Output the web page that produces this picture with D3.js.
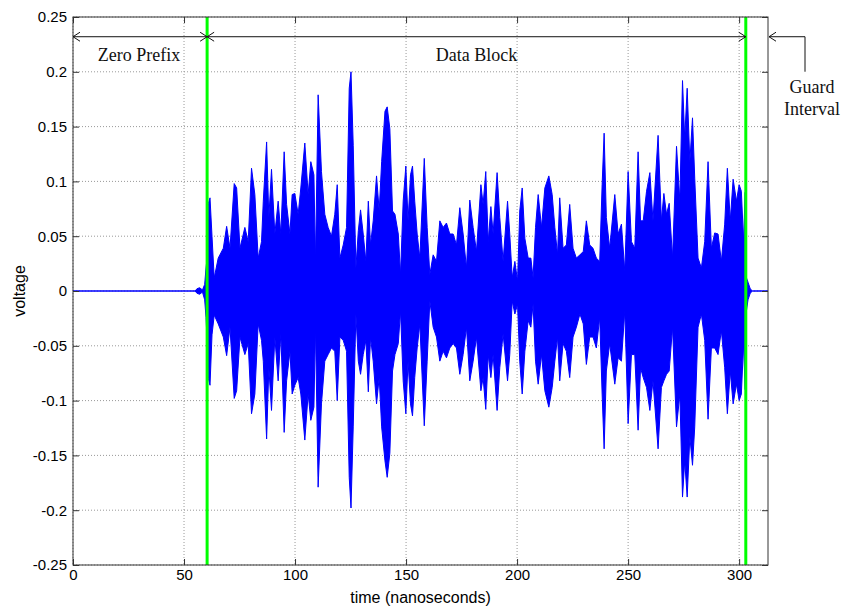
<!DOCTYPE html>
<html>
<head>
<meta charset="utf-8">
<script src="https://cdn.jsdelivr.net/npm/d3@7"></script>
<style>
  body { margin: 0; background: #fff; }
  text { font-family: "Liberation Sans", Arial, sans-serif; }
  .note { font-family: "Liberation Serif", "Times New Roman", serif; font-size: 18px; fill: #111; }
</style>
</head>
<body>
<div id="chart"></div>
<script>
// received signal envelope (upper / lower peaks per time point)

var timeNs = [0, 55, 55.8, 57, 58.3, 59.3, 59.9, 60.4, 61.0, 61.7, 62.6, 63.6, 65.4, 67.7, 69.2, 70.7, 72.6, 73.7, 75.2, 77.4,
  78.9, 80.4, 81.9, 83.4, 84.9, 85.7, 87.2, 88.2, 89.4, 90.9, 92.4, 93.6, 95.1, 96.2, 97.7, 98.7, 99.9, 101.4, 102.6, 104.4,
  105.9, 107.1, 108.5, 109.2, 110.4, 111.9, 113.4, 114.9, 116.4, 117.9, 119.0, 120.2, 121.7, 123.2, 124.4, 125.2, 126.2, 127.4, 128.5, 129.5,
  130.7, 131.9, 133.0, 134.0, 135.2, 136.7, 137.9, 139.0, 140.5, 141.5, 142.7, 143.9, 145.0, 146.5, 147.5, 148.7, 149.9, 150.9, 152.0, 152.9,
  153.9, 155.0, 156.2, 158.2, 159.5, 160.7, 162.2, 163.7, 165.2, 166.7, 168.2, 169.7, 171.2, 172.7, 174.2, 175.7, 177.2, 178.7, 180.2, 181.7,
  183.7, 184.7, 185.9, 187.0, 188.2, 189.2, 191.0, 192.2, 193.7, 195.7, 196.7, 197.8, 199.0, 200.2, 201.2, 202.3, 203.5, 205.0, 206.2, 207.2,
  208.3, 209.5, 211.0, 212.5, 214.3, 215.8, 217.0, 218.2, 219.2, 220.7, 222.2, 223.7, 225.2, 226.7, 228.3, 229.8, 231.2, 232.7, 234.2, 235.7,
  237.2, 238.3, 239.2, 240.2, 241.7, 244.0, 245.5, 247.0, 248.5, 250.0, 251.5, 253.0, 254.5, 255.6, 256.8, 258.3, 259.8, 261.2, 263.5, 265.0,
  266.1, 267.3, 268.5, 270.0, 271.8, 273.3, 274.5, 275.5, 276.6, 277.8, 279.0, 280.0, 281.5, 283.0, 284.5, 286.0, 287.5, 289.0, 290.5, 292.0,
  293.5, 294.7, 296.0, 297.3, 298.8, 300.0, 301.0, 302.0, 302.7, 303.3, 304.0, 305.0, 306.0, 313];

var upperV = [0, 0, 0.002, 0.003, 0.001, 0.006, 0.021, 0.03, 0.08, 0.085, 0.05, 0.012, 0.030, 0.039, 0.059, 0.039, 0.098, 0.094, 0.039, 0.058,
  0.045, 0.112, 0.088, 0.030, 0.045, 0.082, 0.136, 0.067, 0.111, 0.052, 0.082, 0.052, 0.127, 0.079, 0.052, 0.088, 0.089, 0.070, 0.094, 0.135,
  0.088, 0.118, 0.106, 0.027, 0.179, 0.109, 0.070, 0.058, 0.050, 0.070, 0.097, 0.030, 0.042, 0.058, 0.185, 0.200, 0.133, 0.021, 0.055, 0.074,
  0.052, 0.027, 0.082, 0.042, 0.064, 0.105, 0.073, 0.118, 0.164, 0.168, 0.148, 0.073, 0.070, 0.052, 0.015, 0.082, 0.114, 0.064, 0.106, 0.114,
  0.082, 0.052, 0.030, 0.121, 0.058, 0.015, 0.033, 0.027, 0.064, 0.058, 0.062, 0.052, 0.052, 0.042, 0.076, 0.052, 0.021, 0.083, 0.058, 0.036,
  0.097, 0.079, 0.109, 0.045, 0.077, 0.052, 0.108, 0.067, 0.027, 0.082, 0.052, 0.012, 0.027, 0.009, 0.073, 0.094, 0.048, 0.030, 0.030, 0.012,
  0.058, 0.088, 0.058, 0.094, 0.105, 0.088, 0.058, 0.033, 0.085, 0.039, 0.042, 0.079, 0.039, 0.030, 0.033, 0.036, 0.064, 0.042, 0.039, 0.030,
  0.027, 0.097, 0.144, 0.067, 0.039, 0.088, 0.052, 0.061, 0.018, 0.109, 0.045, 0.039, 0.127, 0.064, 0.064, 0.091, 0.108, 0.064, 0.142, 0.064,
  0.089, 0.070, 0.080, 0.030, 0.132, 0.082, 0.192, 0.139, 0.185, 0.118, 0.158, 0.103, 0.030, 0.021, 0.045, 0.118, 0.039, 0.053, 0.052, 0.027,
  0.061, 0.112, 0.064, 0.102, 0.082, 0.097, 0.091, 0.045, 0.09, 0.012, 0.008, 0.002, 0, 0];

var lowerV = [0, 0, -0.002, -0.003, -0.001, -0.008, -0.024, -0.045, -0.08, -0.086, -0.04, -0.022, -0.030, -0.042, -0.059, -0.033, -0.098, -0.091, -0.042, -0.058,
  -0.048, -0.112, -0.094, -0.030, -0.045, -0.064, -0.135, -0.070, -0.109, -0.042, -0.082, -0.039, -0.129, -0.082, -0.055, -0.094, -0.086, -0.079, -0.094, -0.136,
  -0.094, -0.118, -0.106, -0.033, -0.179, -0.103, -0.064, -0.058, -0.052, -0.055, -0.100, -0.042, -0.045, -0.055, -0.170, -0.198, -0.124, -0.021, -0.064, -0.076,
  -0.058, -0.045, -0.092, -0.042, -0.064, -0.103, -0.079, -0.124, -0.155, -0.170, -0.148, -0.073, -0.058, -0.048, -0.018, -0.082, -0.112, -0.064, -0.103, -0.114,
  -0.079, -0.052, -0.030, -0.123, -0.064, -0.009, -0.033, -0.042, -0.064, -0.055, -0.061, -0.052, -0.048, -0.052, -0.076, -0.058, -0.033, -0.082, -0.064, -0.042,
  -0.091, -0.079, -0.108, -0.058, -0.079, -0.058, -0.109, -0.070, -0.039, -0.082, -0.058, -0.009, -0.021, -0.012, -0.064, -0.094, -0.055, -0.027, -0.033, -0.012,
  -0.064, -0.085, -0.058, -0.091, -0.106, -0.088, -0.064, -0.042, -0.082, -0.048, -0.055, -0.079, -0.042, -0.033, -0.021, -0.030, -0.067, -0.042, -0.042, -0.052,
  -0.024, -0.094, -0.144, -0.073, -0.048, -0.085, -0.061, -0.064, -0.018, -0.121, -0.058, -0.058, -0.127, -0.070, -0.079, -0.088, -0.109, -0.082, -0.144, -0.088,
  -0.082, -0.076, -0.073, -0.033, -0.124, -0.094, -0.188, -0.155, -0.188, -0.133, -0.159, -0.124, -0.033, -0.021, -0.045, -0.117, -0.052, -0.052, -0.058, -0.036,
  -0.070, -0.112, -0.073, -0.103, -0.085, -0.100, -0.094, -0.048, -0.09, -0.018, -0.008, -0.002, 0, 0];

var xTicks = [0, 50, 100, 150, 200, 250, 300];
var yTicks = [-0.25, -0.2, -0.15, -0.1, -0.05, 0, 0.05, 0.1, 0.15, 0.2, 0.25];
var boundaries = [60.4, 303];   // green markers: end of zero prefix, end of data block
var xMax = 313;

var w = 843, h = 608;
var margin = {top: 17, right: 75, bottom: 43, left: 73};
var iw = w - margin.left - margin.right,
    ih = h - margin.top - margin.bottom;

var svg = d3.select("#chart").append("svg")
    .attr("width", w)
    .attr("height", h);

var g = svg.append("g")
    .attr("transform", "translate(" + margin.left + "," + margin.top + ")");

var x = d3.scaleLinear().domain([0, xMax]).range([0, iw]);
var y = d3.scaleLinear().domain([-0.25, 0.25]).range([ih, 0]);

var fmt = function(d) { return d === 0 ? "0" : String(+d.toFixed(2)); };

// dotted grid
g.selectAll(".gx").data(xTicks).enter().append("line")
    .attr("x1", d => x(d)).attr("x2", d => x(d))
    .attr("y1", 0).attr("y2", ih)
    .attr("stroke", "#999").attr("stroke-width", 1)
    .attr("stroke-dasharray", "1,2");
g.selectAll(".gy").data(yTicks).enter().append("line")
    .attr("x1", 0).attr("x2", iw)
    .attr("y1", d => y(d)).attr("y2", d => y(d))
    .attr("stroke", "#999").attr("stroke-width", 1)
    .attr("stroke-dasharray", "1,2");

// signal
var pts = timeNs.map(function(t, i) { return {t: t, hi: upperV[i], lo: lowerV[i]}; });

var area = d3.area()
    .x(d => x(d.t))
    .y0(d => y(d.lo))
    .y1(d => y(d.hi));

g.append("path")
    .datum(pts)
    .attr("d", area)
    .attr("fill", "#0000ff")
    .attr("stroke", "#0000ff")
    .attr("stroke-width", 1)
    .attr("stroke-linejoin", "miter");

// boundary markers
g.selectAll(".bnd").data(boundaries).enter().append("line")
    .attr("x1", d => x(d)).attr("x2", d => x(d))
    .attr("y1", 0).attr("y2", ih)
    .attr("stroke", "#00ff00").attr("stroke-width", 3);

// axes, MATLAB style inward ticks
function styleAxis(sel) {
  sel.select(".domain").remove();
  sel.selectAll(".tick line").attr("stroke", "#333");
  sel.selectAll("text").attr("font-size", "15px").attr("fill", "#000");
}

g.append("g").attr("transform", "translate(0," + ih + ")")
    .call(d3.axisBottom(x).tickValues(xTicks).tickFormat(fmt).tickSize(-6).tickPadding(4))
    .call(styleAxis);
g.append("g")
    .call(d3.axisTop(x).tickValues(xTicks).tickFormat("").tickSize(-6))
    .call(styleAxis);
g.append("g")
    .call(d3.axisLeft(y).tickValues(yTicks).tickFormat(fmt).tickSize(-6).tickPadding(6))
    .call(styleAxis);
g.append("g").attr("transform", "translate(" + iw + ",0)")
    .call(d3.axisRight(y).tickValues(yTicks).tickFormat("").tickSize(-6))
    .call(styleAxis);

g.append("rect")
    .attr("width", iw).attr("height", ih)
    .attr("fill", "none").attr("stroke", "#333").attr("stroke-width", 1);

// axis labels
svg.append("text")
    .attr("x", margin.left + iw / 2).attr("y", 603)
    .attr("text-anchor", "middle").attr("font-size", "16px")
    .text("time (nanoseconds)");
svg.append("text")
    .attr("transform", "translate(25," + (margin.top + y(0)) + ") rotate(-90)")
    .attr("text-anchor", "middle").attr("font-size", "16px")
    .text("voltage");

// span annotations
var ay = y(0.232);
function chevron(px, dir) {
  // dir = -1 points left, 1 points right
  g.append("path")
    .attr("d", "M" + (px - dir * 7) + "," + (ay - 4.5) + "L" + px + "," + ay + "L" + (px - dir * 7) + "," + (ay + 4.5))
    .attr("fill", "none").attr("stroke", "#111").attr("stroke-width", 1);
}
function span(a, b) {
  g.append("line")
    .attr("x1", x(a)).attr("x2", x(b))
    .attr("y1", ay).attr("y2", ay)
    .attr("stroke", "#111").attr("stroke-width", 1);
  chevron(x(a), -1);
  chevron(x(b), 1);
}
span(0, boundaries[0]);
span(boundaries[0], boundaries[1]);

g.append("text").attr("class", "note")
    .attr("x", x(boundaries[0] / 2) - 1).attr("y", 44)
    .attr("text-anchor", "middle").text("Zero Prefix");
g.append("text").attr("class", "note")
    .attr("x", x((boundaries[0] + boundaries[1]) / 2)).attr("y", 44)
    .attr("text-anchor", "middle").text("Data Block");

// guard interval pointer, outside the axes
var gx0 = x(xMax) + 1;
g.append("path")
    .attr("d", "M" + gx0 + "," + ay + "H" + (gx0 + 36) + "V" + (ay + 35))
    .attr("fill", "none").attr("stroke", "#111").attr("stroke-width", 1);
chevron(gx0, -1);
g.append("text").attr("class", "note")
    .attr("x", gx0 + 43).attr("y", 76)
    .attr("text-anchor", "middle").text("Guard");
g.append("text").attr("class", "note")
    .attr("x", gx0 + 43).attr("y", 98)
    .attr("text-anchor", "middle").text("Interval");
</script>
</body>
</html>
